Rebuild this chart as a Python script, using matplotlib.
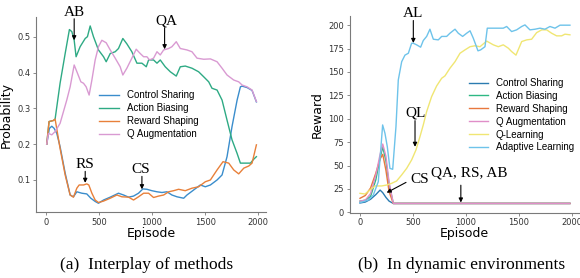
import numpy as np
import matplotlib
matplotlib.use("Agg")
import matplotlib.pyplot as plt

# ---- (a) interplay of methods: probability per episode ----
cs_a_ep = [6, 31, 54, 76, 101, 132, 180, 227, 258, 290, 337, 384, 422, 463, 494, 542, 605, 683, 731,
           778, 825, 872, 913, 951, 998, 1046, 1093, 1140, 1187, 1235, 1298, 1329, 1392, 1455, 1502,
           1550, 1613, 1660, 1707, 1754, 1802, 1833, 1849, 1896, 1943, 1984]
cs_a = [0.2, 0.244, 0.25, 0.244, 0.23, 0.193, 0.119, 0.058, 0.053, 0.067, 0.063, 0.061, 0.049, 0.04,
        0.035, 0.044, 0.052, 0.063, 0.058, 0.052, 0.055, 0.063, 0.075, 0.074, 0.07, 0.067, 0.065,
        0.067, 0.058, 0.053, 0.049, 0.058, 0.072, 0.086, 0.081, 0.086, 0.1, 0.114, 0.165, 0.249,
        0.323, 0.36, 0.362, 0.358, 0.35, 0.318]

ab_a_ep = [6, 28, 69, 85, 132, 180, 220, 243, 265, 283, 321, 369, 390, 416, 447, 494, 542, 567, 605,
           652, 683, 724, 762, 809, 857, 904, 945, 967, 1014, 1046, 1077, 1124, 1172, 1228, 1266,
           1313, 1376, 1439, 1487, 1534, 1565, 1613, 1660, 1707, 1754, 1802, 1833, 1880, 1928,
           1959, 1984]
ab_a = [0.2, 0.263, 0.266, 0.27, 0.37, 0.453, 0.52, 0.514, 0.49, 0.444, 0.472, 0.495, 0.5, 0.53,
        0.5, 0.463, 0.444, 0.43, 0.453, 0.458, 0.467, 0.495, 0.48, 0.458, 0.426, 0.426, 0.416,
        0.435, 0.435, 0.426, 0.435, 0.416, 0.402, 0.39, 0.416, 0.418, 0.412, 0.402, 0.388, 0.374,
        0.356, 0.351, 0.323, 0.267, 0.212, 0.174, 0.147, 0.147, 0.147, 0.158, 0.165]

rs_a_ep = [6, 28, 69, 85, 132, 180, 227, 258, 290, 312, 353, 384, 403, 432, 463, 494, 542, 605, 668,
           715, 778, 825, 872, 920, 967, 1014, 1061, 1109, 1156, 1203, 1250, 1313, 1376, 1439, 1502,
           1550, 1613, 1669, 1723, 1770, 1817, 1865, 1912, 1943, 1984]
rs_a = [0.2, 0.263, 0.266, 0.27, 0.188, 0.114, 0.058, 0.052, 0.077, 0.086, 0.086, 0.089, 0.086,
        0.063, 0.044, 0.037, 0.041, 0.049, 0.058, 0.053, 0.052, 0.044, 0.053, 0.063, 0.063, 0.051,
        0.055, 0.058, 0.067, 0.07, 0.074, 0.07, 0.077, 0.081, 0.095, 0.1, 0.128, 0.151, 0.147,
        0.128, 0.117, 0.133, 0.139, 0.147, 0.198]

qa_a_ep = [6, 22, 54, 85, 132, 195, 227, 265, 296, 328, 353, 378, 406, 432, 463, 494, 526, 567, 605,
           652, 699, 724, 762, 809, 850, 888, 920, 951, 976, 1014, 1046, 1077, 1109, 1156, 1187,
           1228, 1266, 1329, 1376, 1424, 1487, 1550, 1613, 1660, 1707, 1770, 1817, 1849, 1896, 1943,
           1984]
qa_a = [0.2, 0.23, 0.226, 0.235, 0.258, 0.323, 0.36, 0.421, 0.398, 0.374, 0.37, 0.36, 0.337, 0.379,
        0.435, 0.472, 0.49, 0.483, 0.463, 0.44, 0.416, 0.393, 0.412, 0.44, 0.465, 0.453, 0.444,
        0.444, 0.435, 0.44, 0.458, 0.449, 0.463, 0.467, 0.472, 0.486, 0.467, 0.463, 0.458, 0.44,
        0.437, 0.438, 0.43, 0.412, 0.393, 0.379, 0.374, 0.365, 0.36, 0.351, 0.319]

# ---- (b) dynamic environments: reward per episode ----
early_ep = [0, 50, 100, 150, 190, 215, 245, 275, 315, 1984]
cs_b = [10, 11, 14, 19, 23.8, 21, 16, 12, 9.5, 9.5]
ab_b = [12, 13, 17, 35, 58, 70, 55, 30, 9.5, 9.5]
rs_b = [15, 18, 26, 42, 57, 62, 45, 22, 9.5, 9.5]
qa_b = [12, 13, 20, 40, 62, 73, 60, 32, 9.5, 9.5]

ql_ep = [0, 47, 94, 142, 205, 252, 299, 346, 394, 441, 488, 529, 567, 598, 630, 677, 724, 772, 803,
         850, 898, 945, 992, 1040, 1087, 1134, 1197, 1260, 1307, 1354, 1402, 1433, 1474, 1528,
         1575, 1622, 1669, 1717, 1764, 1811, 1858, 1906, 1937, 1984]
ql_b = [20.3, 19.6, 23.9, 28.2, 28.2, 29.2, 31, 33.5, 40, 47, 56, 66.7, 81, 93.4, 107.7, 123.7, 135,
        143.3, 145.8, 154, 161, 170, 173.6, 177, 178, 177, 183, 179, 177, 179, 175.4, 171.8, 168,
        182.5, 184.3, 185, 192, 195, 195, 191.4, 188.6, 188.6, 190.4, 189.7]

al_ep = [0, 31, 79, 126, 173, 214, 236, 258, 283, 309, 340, 362, 394, 425, 457, 488, 504, 535, 573,
         598, 630, 661, 693, 740, 772, 819, 850, 898, 929, 970, 1008, 1040, 1071, 1115, 1140, 1181,
         1203, 1260, 1307, 1354, 1386, 1433, 1480, 1528, 1559, 1606, 1654, 1701, 1748, 1795, 1843,
         1890, 1984]
al_b = [10.3, 11.4, 13.2, 18.5, 32.8, 93.4, 84.5, 70.2, 47, 46, 91.6, 141.5, 161, 168, 170, 180.7,
        180.7, 179, 176.5, 183.6, 188, 195.7, 185, 184.3, 188, 188, 191.4, 195.7, 191.4, 188,
        191.4, 194, 186, 172.6, 173.6, 177, 196.8, 196.8, 196.8, 196.8, 198.6, 193.2, 195, 198.6,
        200.3, 195, 195.7, 196.8, 195.7, 198.6, 196.8, 200, 200]

labels_a = ["Control Sharing", "Action Biasing", "Reward Shaping", "Q Augmentation"]
labels_b = labels_a + ["Q-Learning", "Adaptive Learning"]
colors_a = ["#3a8dcc", "#2eaa84", "#e8803a", "#d99ad2"]
colors_b = ["#2b7bb0", "#2eb884", "#e8783e", "#e08ec8", "#f0e673", "#6ec3ea"]

plt.rcParams["font.family"] = "DejaVu Sans"

fig = plt.figure(figsize=(5.8, 2.78), dpi=100)
ax1 = fig.add_axes([0.0621, 0.2367, 0.3966, 0.7022])
ax2 = fig.add_axes([0.6026, 0.2345, 0.3974, 0.7079])

spine_col = "#7a7a7a"


def style_axis(ax):
    for side in ["top", "right"]:
        ax.spines[side].set_visible(False)
    for side in ["left", "bottom"]:
        ax.spines[side].set_color(spine_col)
        ax.spines[side].set_linewidth(0.8)
    ax.tick_params(labelsize=6, length=2, width=0.6, color=spine_col,
                   labelcolor="#333333", pad=2)
    ax.set_xlabel("Episode", fontsize=9, labelpad=0)


def note(ax, label, text_xy, start, tip, **kw):
    ax.text(*text_xy, label, family="Liberation Serif", fontsize=11,
            ha="center", va="center", **kw)
    ax.annotate("", xy=tip, xytext=start, annotation_clip=False,
                arrowprops=dict(arrowstyle="-|>", color="black", lw=0.8,
                                mutation_scale=6, shrinkA=0, shrinkB=0))


# left panel
series_a = [(cs_a_ep, cs_a), (ab_a_ep, ab_a), (rs_a_ep, rs_a), (qa_a_ep, qa_a)]
for (ep, vals), lab, col in zip(series_a, labels_a, colors_a):
    ax1.plot(ep, vals, color=col, lw=1.0, label=lab)
ax1.set_xlim(-95, 2075)
ax1.set_ylim(0.01, 0.555)
ax1.set_xticks([0, 500, 1000, 1500, 2000])
ax1.set_yticks([0.1, 0.2, 0.3, 0.4, 0.5])
ax1.set_ylabel("Probability", fontsize=9, labelpad=3)
style_axis(ax1)
ax1.legend(loc="center", bbox_to_anchor=(0.49, 0.50), frameon=False,
           prop={"family": "Liberation Sans", "size": 7}, labelspacing=0.3,
           handlelength=2.0, handletextpad=0.8)

note(ax1, "AB", (265, 0.568), (265, 0.55), (265, 0.49))
note(ax1, "QA", (1131, 0.544), (1118, 0.525), (1118, 0.465))
note(ax1, "RS", (369, 0.142), (369, 0.124), (369, 0.092))
note(ax1, "CS", (888, 0.128), (904, 0.11), (904, 0.074))

# right panel
series_b = [(early_ep, cs_b), (early_ep, ab_b), (early_ep, rs_b), (early_ep, qa_b),
            (ql_ep, ql_b), (al_ep, al_b)]
for (ep, vals), lab, col in zip(series_b, labels_b, colors_b):
    ax2.plot(ep, vals, color=col, lw=1.0, label=lab)
ax2.set_xlim(-99, 2079)
ax2.set_ylim(-0.5, 209.8)
ax2.set_xticks([0, 500, 1000, 1500, 2000])
ax2.set_yticks(np.arange(0, 201, 25))
ax2.set_ylabel("Reward", fontsize=9, labelpad=3)
style_axis(ax2)
ax2.legend(loc="center", bbox_to_anchor=(0.745, 0.496), frameon=False,
           prop={"family": "Liberation Sans", "size": 7}, labelspacing=0.3,
           handlelength=2.0, handletextpad=0.8)

note(ax2, "AL", (498, 212), (504, 205), (504, 181))
note(ax2, "QL", (529, 106), (520, 98), (520, 70))
note(ax2, "CS", (560, 35), (435, 32), (252, 21))
note(ax2, "QA, RS, AB", (1033, 42), (953, 29), (953, 10.5))

fig.text(0.253, 0.047, "(a)  Interplay of methods", family="Liberation Serif",
         fontsize=12.5, ha="center", va="center")
fig.text(0.795, 0.047, "(b)  In dynamic environments", family="Liberation Serif",
         fontsize=12.5, ha="center", va="center")

fig.savefig("out.png", dpi=100)
